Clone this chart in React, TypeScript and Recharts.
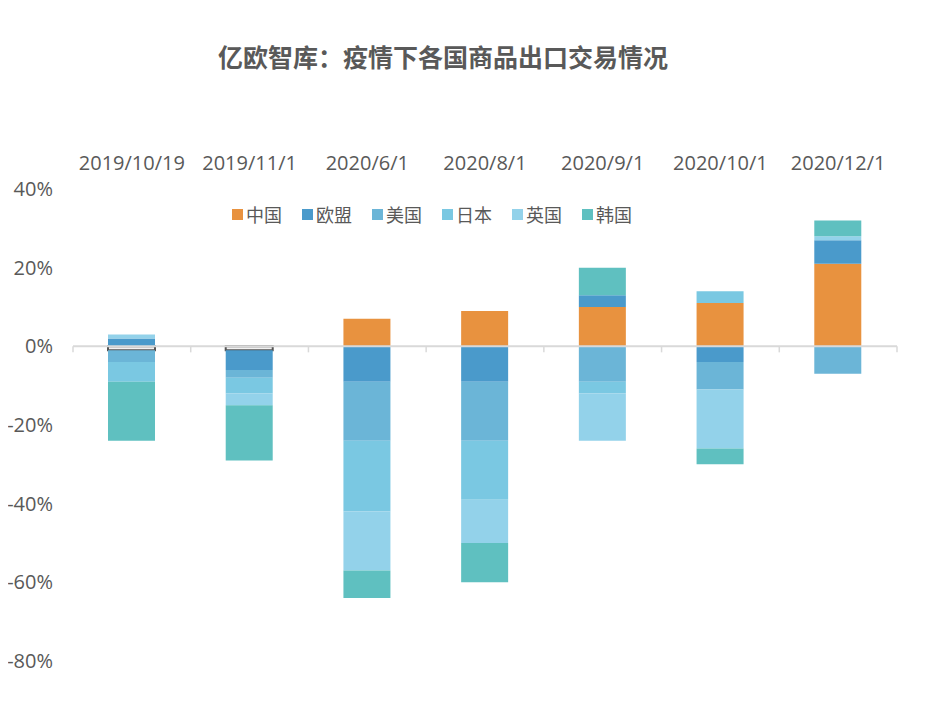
import { BarChart, Bar, XAxis, YAxis, Cell, ReferenceLine, Legend } from 'recharts';

const categories = ['2019/10/19', '2019/11/1', '2020/6/1', '2020/8/1', '2020/9/1', '2020/10/1', '2020/12/1'];
const china = [-1, -1, 7, 9, 10, 11, 21];
const eu = [2, -5, -9, -9, 3, -4, 6];
const us = [-3, -2, -15, -15, -9, -7, -7];
const japan = [-5, -4, -18, -15, -3, 3, 0];
const uk = [1, -3, -15, -11, -12, -15, 1];
const korea = [-15, -14, -7, -10, 7, -4, 4];
const yTicks = [-80, -60, -40, -20, 0, 20, 40];

const series = [
  { key: 'china', name: '中国', color: '#e8923f' },
  { key: 'eu', name: '欧盟', color: '#4a9acb' },
  { key: 'us', name: '美国', color: '#6bb5d7' },
  { key: 'japan', name: '日本', color: '#7ac8e2' },
  { key: 'uk', name: '英国', color: '#93d2ea' },
  { key: 'korea', name: '韩国', color: '#5fc0c0' },
];

const data = categories.map((name, i) => ({
  name,
  china: china[i],
  eu: eu[i],
  us: us[i],
  japan: japan[i],
  uk: uk[i],
  korea: korea[i],
}));

const FONT = '"Noto Sans CJK SC", "Open Sans", sans-serif';
const NUM_FONT = '"Open Sans", "Noto Sans CJK SC", sans-serif';
const TEXT = '#595959';

// zero line with small ticks at the category boundaries
function ZeroLine(props: any) {
  const { x1, y1, x2, y2 } = props;
  const step = (x2 - x1) / categories.length;
  const ticks = [];
  for (let i = 0; i <= categories.length; i++) {
    const x = x1 + step * i;
    ticks.push(<line key={i} x1={x} y1={y1} x2={x} y2={y1 + 6} stroke="#d9d9d9" strokeWidth={1.5} />);
  }
  return (
    <g>
      <line x1={x1} y1={y1} x2={x2} y2={y2} stroke="#d9d9d9" strokeWidth={2} />
      {ticks}
    </g>
  );
}

function LegendContent() {
  return (
    <div style={{ display: 'flex', justifyContent: 'center', fontFamily: FONT, fontSize: 18, color: TEXT }}>
      {series.map((s, i) => (
        <div key={s.key} style={{ display: 'flex', alignItems: 'center', marginRight: i < series.length - 1 ? 20 : 0 }}>
          <div style={{ width: 11, height: 11, background: s.color, marginRight: 3 }} />
          <span>{s.name}</span>
        </div>
      ))}
    </div>
  );
}

export default function App() {
  return (
    <div style={{ position: 'relative', margin: -8, width: 932, height: 720, background: '#fff' }}>
      <div
        style={{
          position: 'absolute',
          top: 38,
          left: 0,
          width: 886,
          textAlign: 'center',
          fontFamily: FONT,
          fontWeight: 'bold',
          fontSize: 25,
          color: TEXT,
        }}
      >
        亿欧智库：疫情下各国商品出口交易情况
      </div>
      <BarChart
        width={932}
        height={720}
        data={data}
        stackOffset="sign"
        margin={{ top: 149, right: 35, left: 0, bottom: 59 }}
      >
        <XAxis
          dataKey="name"
          orientation="top"
          height={40}
          axisLine={false}
          tickLine={false}
          tickSize={0}
          tickMargin={19}
          tick={{ fill: TEXT, fontSize: 20, fontFamily: NUM_FONT }}
          interval={0}
        />
        <YAxis
          width={73}
          domain={[-80, 40]}
          ticks={yTicks}
          axisLine={false}
          tickLine={false}
          tickSize={0}
          tickMargin={20}
          tickFormatter={(v: number) => `${v}%`}
          tick={{ fill: TEXT, fontSize: 20, fontFamily: NUM_FONT }}
        />
        <ReferenceLine y={0} shape={ZeroLine} />
        <Legend
          verticalAlign="middle"
          align="center"
          layout="horizontal"
          content={<LegendContent />}
          wrapperStyle={{ top: 201, left: 0, width: 864 }}
        />
        {series.map(s => (
          <Bar key={s.key} dataKey={s.key} name={s.name} stackId="a" fill={s.color} barSize={47} isAnimationActive={false}>
            {data.map((d, i) =>
              s.key === 'china' && d.china < 0 ? (
                <Cell key={i} fill="#f2f2f2" stroke="#555" strokeWidth={2} />
              ) : (
                <Cell key={i} fill={s.color} />
              )
            )}
          </Bar>
        ))}
      </BarChart>
    </div>
  );
}
